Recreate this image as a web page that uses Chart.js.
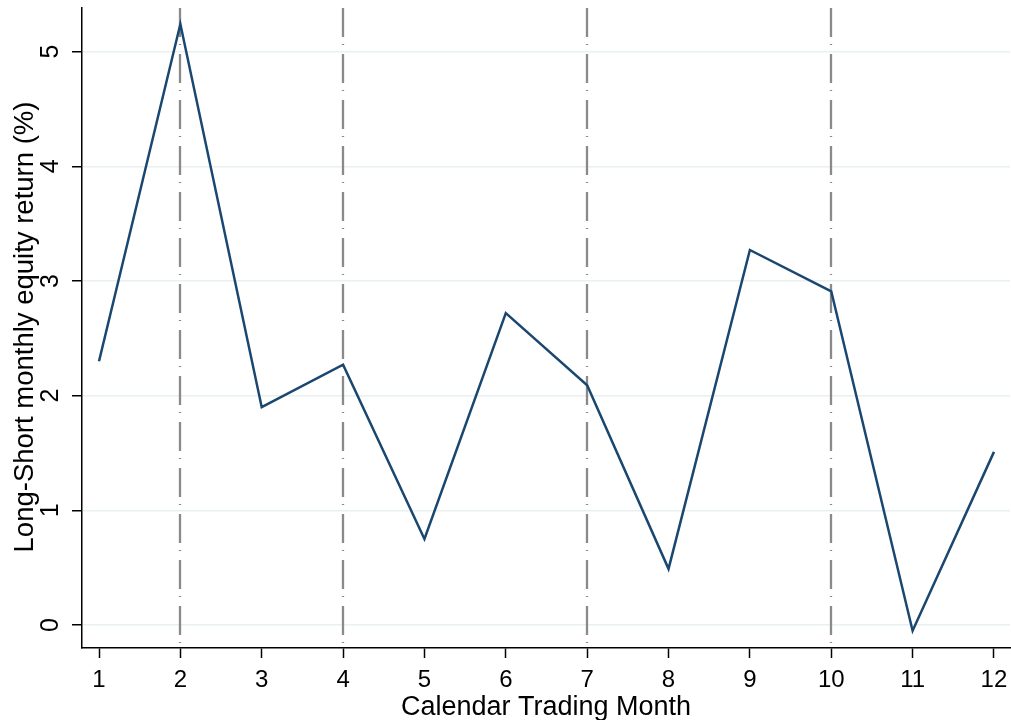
<!DOCTYPE html>
<html lang="en">
<head>
    <meta charset="UTF-8">
    <title>Long-Short monthly equity return</title>
    <script src="https://cdn.jsdelivr.net/npm/chart.js"></script>
    <style>
        html, body { margin: 0; padding: 0; background: #fff; }
        #wrap { width: 1011px; height: 720px; }
    </style>
</head>
<body>
    <div id="wrap"><canvas id="returnChart"></canvas></div>
    <script type="text/javascript">
        // values
        var months = [1, 2, 3, 4, 5, 6, 7, 8, 9, 10, 11, 12];
        var returns = [2.30, 5.24, 1.90, 2.27, 0.75, 2.72, 2.09, 0.49, 3.27, 2.91, -0.05, 1.51];
        var yTicks = [0, 1, 2, 3, 4, 5];
        var markedMonths = [2, 4, 7, 10];  // dash-dot reference lines
        var yTitle = 'Long-Short monthly equity return (%)';

        var font = "'Liberation Sans', Arial, sans-serif";

        // gray dash-dot lines at the marked months
        var monthLines = {
            id: 'monthLines',
            beforeDatasetsDraw: function(chart) {
                var ctx = chart.ctx, area = chart.chartArea, xs = chart.scales.x;
                ctx.save();
                ctx.strokeStyle = '#8a8a8a';
                ctx.lineWidth = 2.3;
                ctx.setLineDash([29, 7, 1, 9]);
                markedMonths.forEach(function(m) {
                    var px = Math.round(xs.getPixelForValue(m));
                    ctx.beginPath();
                    ctx.moveTo(px, area.top);
                    ctx.lineTo(px, area.bottom);
                    ctx.stroke();
                });
                ctx.restore();
            }
        };

        // y labels and title, turned to read bottom-up like the original
        var yLabels = {
            id: 'yLabels',
            afterDraw: function(chart) {
                var ctx = chart.ctx, ys = chart.scales.y;
                ctx.save();
                ctx.fillStyle = '#000';
                ctx.textAlign = 'center';
                ctx.textBaseline = 'middle';
                ctx.font = '25px ' + font;
                yTicks.forEach(function(v) {
                    ctx.save();
                    ctx.translate(51, ys.getPixelForValue(v));
                    ctx.rotate(-Math.PI / 2);
                    ctx.fillText(String(v), 0, 0);
                    ctx.restore();
                });
                ctx.font = '27.5px ' + font;
                ctx.translate(25, 327);
                ctx.rotate(-Math.PI / 2);
                ctx.fillText(yTitle, 0, 0);
                ctx.restore();
            }
        };

        var ctx = document.getElementById('returnChart').getContext('2d');
        var chart = new Chart(ctx, {
            type: 'line',
            data: {
                datasets: [{
                    data: months.map(function(m, i) { return {x: m, y: returns[i]}; }),
                    borderColor: '#1a476f',
                    borderWidth: 2.5,
                    pointRadius: 0,
                    tension: 0
                }]
            },
            plugins: [monthLines, yLabels],
            options: {
                responsive: true,
                maintainAspectRatio: false,
                animation: false,
                layout: { padding: { top: 8, right: 1, left: 0, bottom: 0 } },
                plugins: {
                    legend: { display: false },
                    tooltip: { enabled: false }
                },
                scales: {
                    x: {
                        type: 'linear',
                        min: 0.791,
                        max: 12.197,
                        afterBuildTicks: function(scale) {
                            scale.ticks = months.map(function(v) { return {value: v}; });
                        },
                        afterFit: function(scale) {
                            scale.height = 72;
                            scale.paddingLeft = 0;
                            scale.paddingRight = 0;
                        },
                        grid: {
                            drawOnChartArea: false,
                            drawTicks: true,
                            tickLength: 10,
                            tickColor: '#000',
                            tickWidth: 1.5
                        },
                        border: { display: true, color: '#000', width: 1.5 },
                        ticks: {
                            color: '#000',
                            font: { family: font, size: 24 },
                            padding: 8,
                            maxRotation: 0,
                            autoSkip: false
                        },
                        title: {
                            display: true,
                            text: 'Calendar Trading Month',
                            color: '#000',
                            font: { family: font, size: 27 },
                            padding: { top: 0, bottom: -4 }
                        }
                    },
                    y: {
                        min: -0.2,
                        max: 5.38,
                        afterBuildTicks: function(scale) {
                            scale.ticks = yTicks.map(function(v) { return {value: v}; });
                        },
                        afterFit: function(scale) { scale.width = 82; },
                        grid: {
                            color: '#e8f0f2',
                            lineWidth: 1.5,
                            drawTicks: true,
                            tickLength: 10,
                            tickColor: '#000',
                            tickWidth: 1.5
                        },
                        border: { display: true, color: '#000', width: 1.5 },
                        ticks: { display: false }
                    }
                }
            }
        });
    </script>
</body>
</html>
